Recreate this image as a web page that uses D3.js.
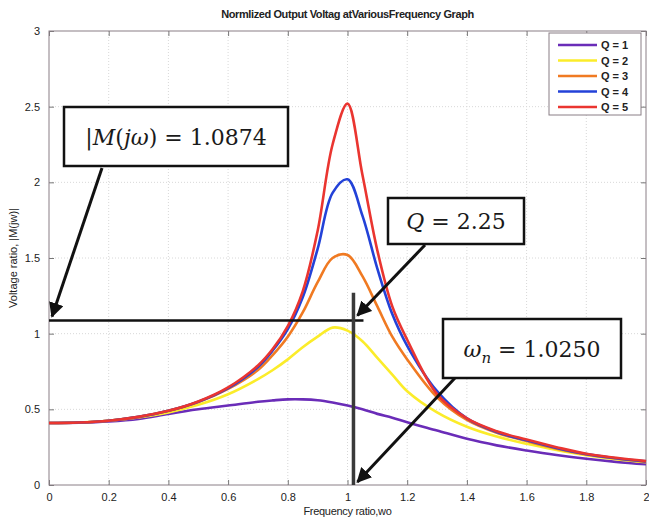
<!DOCTYPE html>
<html>
<head>
<meta charset="utf-8">
<script src="https://cdn.jsdelivr.net/npm/d3@7"></script>
<style>
  body { margin: 0; background: #fff; }
  svg { display: block; }
  text { font-family: "Liberation Sans", Arial, sans-serif; }
</style>
</head>
<body>
<svg id="chart"></svg>
<script>
// frequency ratio samples
var freq = [0, 0.1, 0.2, 0.3, 0.4, 0.5, 0.6, 0.7, 0.75, 0.8, 0.85, 0.9, 0.95, 1.0, 1.05, 1.1, 1.15, 1.2, 1.3, 1.4, 1.5, 1.6, 1.7, 1.8, 1.9, 2.0];

// voltage ratio, one list per Q
var q1 = [0.41, 0.412, 0.42, 0.437, 0.47, 0.5, 0.525, 0.55, 0.559, 0.566, 0.566, 0.56, 0.545, 0.525, 0.5, 0.47, 0.445, 0.415, 0.36, 0.305, 0.262, 0.228, 0.198, 0.173, 0.153, 0.137];
var q2 = [0.41, 0.413, 0.425, 0.447, 0.48, 0.53, 0.6, 0.7, 0.76, 0.83, 0.91, 0.98, 1.04, 1.02, 0.95, 0.84, 0.73, 0.62, 0.48, 0.385, 0.32, 0.272, 0.232, 0.197, 0.17, 0.15];
var q3 = [0.41, 0.413, 0.425, 0.45, 0.49, 0.548, 0.635, 0.76, 0.86, 0.98, 1.14, 1.34, 1.5, 1.52, 1.38, 1.18, 0.98, 0.83, 0.58, 0.43, 0.345, 0.29, 0.24, 0.202, 0.175, 0.153];
var q4 = [0.41, 0.413, 0.425, 0.45, 0.49, 0.55, 0.64, 0.78, 0.89, 1.03, 1.24, 1.56, 1.93, 2.02, 1.78, 1.43, 1.13, 0.92, 0.62, 0.44, 0.35, 0.295, 0.245, 0.204, 0.177, 0.156];
var q5 = [0.41, 0.413, 0.425, 0.45, 0.49, 0.552, 0.645, 0.79, 0.9, 1.05, 1.28, 1.68, 2.25, 2.52, 2.05, 1.55, 1.18, 0.96, 0.6, 0.44, 0.355, 0.3, 0.25, 0.206, 0.18, 0.158];

var seriesNames = ["Q = 1", "Q = 2", "Q = 3", "Q = 4", "Q = 5"];
var seriesColors = ["#6a2cb8", "#fbec2a", "#f07a22", "#2342d8", "#ea3530"];
var seriesValues = [q1, q2, q3, q4, q5];

var xTicks = [0, 0.2, 0.4, 0.6, 0.8, 1, 1.2, 1.4, 1.6, 1.8, 2];
var yTicks = [0, 0.5, 1, 1.5, 2, 2.5, 3];

// annotation values
var markGain = 1.0874, markFreq = 1.02;

var W = 649, H = 519;
var margin = { top: 31, right: 3, bottom: 34, left: 49 },
	width = W - margin.left - margin.right,
	height = H - margin.top - margin.bottom;

var svg = d3.select('#chart').attr('width', W).attr('height', H);
var g = svg.append('g')
	.attr('transform', 'translate(' + margin.left + ',' + margin.top + ')');

var x = d3.scaleLinear().domain([0, 2]).range([0, width]);
var y = d3.scaleLinear().domain([0, 3]).range([height, 0]);

// grid
g.selectAll('.vgrid').data(xTicks.slice(1, -1)).enter().append('line')
	.attr('x1', function(d){ return x(d); }).attr('x2', function(d){ return x(d); })
	.attr('y1', 0).attr('y2', height)
	.attr('stroke', '#d8d8d8').attr('stroke-dasharray', '1,2');
g.selectAll('.hgrid').data(yTicks.slice(1, -1)).enter().append('line')
	.attr('y1', function(d){ return y(d); }).attr('y2', function(d){ return y(d); })
	.attr('x1', 0).attr('x2', width)
	.attr('stroke', '#d8d8d8').attr('stroke-dasharray', '1,2');

// axes, ticks inward on all four sides
var fmt = function(d){ return d3.format('')(d); };
var axStyle = function(sel, hide){
	sel.select('.domain').remove();
	sel.selectAll('.tick line').attr('stroke', '#777');
	sel.selectAll('.tick text').attr('fill', '#222').style('font-size', '11px')
		.style('display', hide ? 'none' : null);
};
g.append('g').attr('transform', 'translate(0,' + height + ')')
	.call(d3.axisBottom(x).tickValues(xTicks).tickFormat(fmt).tickSizeInner(-5).tickPadding(8))
	.call(axStyle, false);
g.append('g').call(d3.axisTop(x).tickValues(xTicks).tickSizeInner(-5)).call(axStyle, true);
g.append('g')
	.call(d3.axisLeft(y).tickValues(yTicks).tickFormat(fmt).tickSizeInner(-5).tickPadding(9))
	.call(axStyle, false);
g.append('g').attr('transform', 'translate(' + width + ',0)')
	.call(d3.axisRight(y).tickValues(yTicks).tickSizeInner(-5)).call(axStyle, true);

g.append('rect').attr('width', width).attr('height', height)
	.attr('fill', 'none').attr('stroke', '#8a7f86').attr('stroke-width', 1);

// curves
var line = d3.line()
	.x(function(d){ return x(d[0]); })
	.y(function(d){ return y(d[1]); })
	.curve(d3.curveCatmullRom.alpha(0.5));

seriesValues.forEach(function(vals, i){
	g.append('path')
		.datum(freq.map(function(f, k){ return [f, vals[k]]; }))
		.attr('d', line)
		.attr('fill', 'none')
		.attr('stroke', seriesColors[i])
		.attr('stroke-width', 2.6);
});

// legend
var leg = g.append('g').attr('transform', 'translate(' + (width - 97) + ',2)');
leg.append('rect').attr('width', 92).attr('height', 82)
	.attr('fill', '#fff').attr('stroke', '#8a7f86');
seriesNames.forEach(function(name, i){
	var yy = 12 + i * 15.5;
	leg.append('line').attr('x1', 9).attr('x2', 48).attr('y1', yy).attr('y2', yy)
		.attr('stroke', seriesColors[i]).attr('stroke-width', 2.6);
	leg.append('text').attr('x', 52).attr('y', yy + 4)
		.style('font-size', '11px').style('font-weight', 'bold').attr('fill', '#222')
		.text(name);
});

// annotation lines
g.append('line')
	.attr('x1', x(0)).attr('x2', x(markFreq) + 10)
	.attr('y1', y(markGain)).attr('y2', y(markGain))
	.attr('stroke', '#111').attr('stroke-width', 2.5);
g.append('line')
	.attr('x1', x(markFreq)).attr('x2', x(markFreq))
	.attr('y1', y(1.27)).attr('y2', y(0))
	.attr('stroke', '#3a3a3a').attr('stroke-width', 3.5);

svg.append('defs').append('marker')
	.attr('id', 'head').attr('viewBox', '0 0 10 10')
	.attr('refX', 9).attr('refY', 5)
	.attr('markerWidth', 5).attr('markerHeight', 5)
	.attr('orient', 'auto')
	.append('path').attr('d', 'M0,0 L10,5 L0,10 Z').attr('fill', '#111');

var arrow = function(x1, y1, x2, y2){
	g.append('line')
		.attr('x1', x1).attr('y1', y1).attr('x2', x2).attr('y2', y2)
		.attr('stroke', '#111').attr('stroke-width', 3)
		.attr('marker-end', 'url(#head)');
};

var box = function(bx, by, bw, bh){
	g.append('rect').attr('x', bx).attr('y', by).attr('width', bw).attr('height', bh)
		.attr('fill', '#fff').attr('stroke', '#111').attr('stroke-width', 2.5);
	return g.append('text').attr('x', bx + bw / 2).attr('y', by + bh / 2 + 8)
		.attr('text-anchor', 'middle')
		.style('font-family', '"DejaVu Serif", "Liberation Serif", serif')
		.style('font-size', '22px').attr('fill', '#1a1a1a');
};

arrow(53, 137, x(0) + 3, y(markGain) - 4);
var t1 = box(15, 76, 224, 59);
t1.append('tspan').text('|');
t1.append('tspan').style('font-style', 'italic').text('M');
t1.append('tspan').text('(');
t1.append('tspan').style('font-style', 'italic').text('jω');
t1.append('tspan').text(') = 1.0874');

arrow(376, 214, x(markFreq) + 4, y(markGain) - 5);
var t2 = box(339, 167, 136, 46);
t2.append('tspan').style('font-style', 'italic').text('Q');
t2.append('tspan').text(' = 2.25');

arrow(406, 347, x(markFreq) + 4, y(0) - 3);
var t3 = box(394, 288, 178, 59);
t3.append('tspan').style('font-style', 'italic').text('ω');
t3.append('tspan').style('font-style', 'italic').style('font-size', '15px').attr('dy', 6).text('n');
t3.append('tspan').attr('dy', -6).text(' = 1.0250');

// titles
svg.append('text').attr('x', margin.left + width / 2).attr('y', 18)
	.attr('text-anchor', 'middle').style('font-size', '11px').style('font-weight', 'bold')
	.attr('fill', '#222').attr('letter-spacing', '-0.4')
	.text('Normlized Output Voltag atVariousFrequency Graph');
svg.append('text').attr('x', margin.left + width / 2).attr('y', 515)
	.attr('text-anchor', 'middle').style('font-size', '11px').attr('fill', '#222')
	.attr('letter-spacing', '-0.3')
	.text('Frequency ratio,wo');
svg.append('text')
	.attr('transform', 'translate(17,' + (margin.top + height / 2) + ') rotate(-90)')
	.attr('text-anchor', 'middle').style('font-size', '11px').attr('fill', '#222')
	.text('Voltage ratio, |M(jw)|');
</script>
</body>
</html>
